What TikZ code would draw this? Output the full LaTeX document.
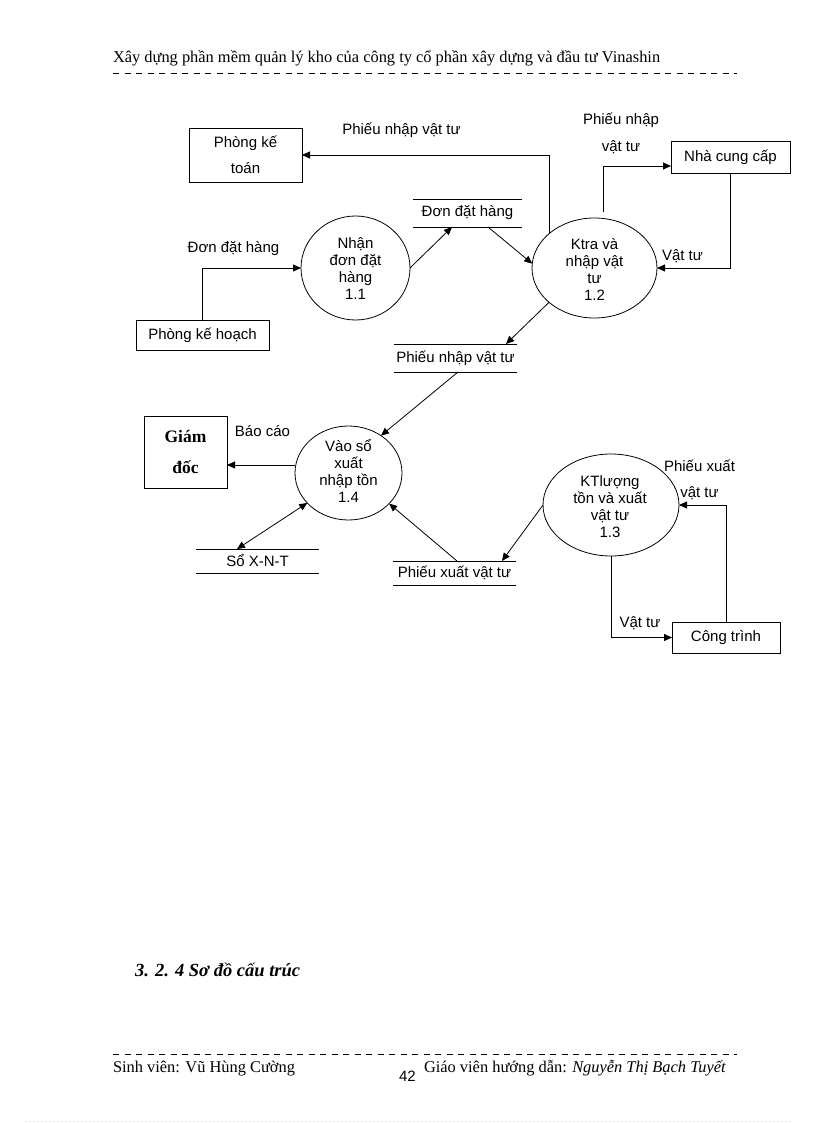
\documentclass[tikz,border=0pt]{standalone}
\usepackage{fontspec}
\setmainfont{Liberation Serif}
\newfontfamily\arialf{Liberation Sans}
\usetikzlibrary{arrows.meta,shapes.geometric,calc}
\begin{document}
\begin{tikzpicture}[x=1pt,y=-1pt,
  every node/.style={inner sep=0pt,outer sep=0pt},
  dfd/.style={font=\arialf\fontsize{15}{17}\selectfont},
  ent/.style={dfd,draw,line width=0.8pt,rectangle,align=center},
  proc/.style={ellipse,draw,line width=0.8pt},
  ptext/.style={dfd,align=center},
  store/.style={dfd},
  lbl/.style={dfd},
  flow/.style={line width=0.8pt},
  arr/.style={flow,-{Triangle[length=8pt,width=7pt]}},
  darr/.style={flow,{Triangle[length=8pt,width=7pt]}-{Triangle[length=8pt,width=7pt]}},
  dashline/.style={line width=0.8pt,dash pattern=on 6pt off 5.5pt},
  serif/.style={font=\fontsize{16.4}{19}\selectfont}
]
\fill[white] (0,0) rectangle (816,1123);
\useasboundingbox (0,0) rectangle (816,1123);

% header
\node[serif,anchor=base west] (hdr) at (113,63) {Xây dựng phần mềm quản lý kho của công ty cổ phần xây dựng và đầu tư Vinashin};
\coordinate (hd1) at (113,73);
\coordinate (hd2) at (737,73);
\draw[dashline] (hd1) -- (hd2);

% external entities
\node[ent,minimum width=113pt,minimum height=54pt,font=\arialf\fontsize{15}{26}\selectfont] (ketoan) at (245.5,155) {Phòng kế\\toán};
\node[ent,minimum width=133pt,minimum height=30pt] (kehoach) at (202.5,335) {Phòng kế hoạch};
\node[ent,minimum width=119pt,minimum height=32pt] (ncc) at (730.5,157) {Nhà cung cấp};
\node[ent,minimum width=83pt,minimum height=72pt,font=\bfseries\fontsize{17.5}{31}\selectfont] (gd) at (185.5,452) {Giám\\đốc};
\node[ent,minimum width=108pt,minimum height=31pt] (ct) at (726,637.5) {Công trình};

% processes
\node[proc,minimum width=109pt,minimum height=104pt] (p11) at (355.5,268) {};
\node[proc,minimum width=125pt,minimum height=100pt] (p12) at (594.5,268) {};
\node[proc,minimum width=136pt,minimum height=102pt] (p13) at (611,505) {};
\node[proc,minimum width=107pt,minimum height=94pt] (p14) at (348.5,473) {};
\node[ptext] (p11t) at (355.5,269) {Nhận\\đơn đặt\\hàng\\1.1};
\node[ptext] (p12t) at (594.5,269) {Ktra và\\nhập vật\\tư\\1.2};
\node[ptext] (p13t) at (610,507) {KTlượng\\tồn và xuất\\vật tư\\1.3};
\node[ptext] (p14t) at (348.5,471) {Vào sổ\\xuất\\nhập tồn\\1.4};

% data stores
\node[store,minimum width=109pt,minimum height=28pt] (s1) at (467.5,213) {Đơn đặt hàng};
\node[store,minimum width=123pt,minimum height=28pt] (s2) at (455.5,358) {Phiếu nhập vật tư};
\node[store,minimum width=123pt,minimum height=24pt] (s3) at (257.5,561) {Sổ X-N-T};
\node[store,minimum width=123pt,minimum height=24pt] (s4) at (454.5,573) {Phiếu xuất vật tư};
\foreach \s in {s1,s2,s3,s4}{
  \draw[flow] (\s.north west) -- (\s.north east) (\s.south west) -- (\s.south east);
}

% flows
\draw[arr] (kehoach.north) |- (p11.west);
\draw[arr] (p11.east) -- ([xshift=-15.5pt]s1.south);
\draw[arr] ([xshift=20.5pt]s1.south) -- (p12.176);
\draw[arr] (p12.142) |- (ketoan.east);
\draw[arr] ($(p12.north)+(8.5,-6)$) |- ([yshift=-9pt]ncc.west);
\draw[arr] (ncc.south) |- (p12.east);
\draw[arr] (p12.217) -- ([xshift=50.5pt]s2.north);
\draw[arr] ([xshift=2.5pt]s2.south) -- (p14.49);
\draw[arr] ([yshift=-13pt]gd.east -| p14.west) -- ([yshift=-13pt]gd.east);
\draw[darr] (p14.216) -- ([xshift=-20.5pt]s3.north);
\draw[arr] ([xshift=2.5pt]s4.north) -- (p14.323);
\draw[arr] (p13.west) -- ([xshift=47.5pt]s4.north);
\draw[arr] (ct.north) |- (p13.east);
\draw[arr] (p13.south) |- (ct.west);

% flow labels
\node[lbl] (l1) at (401.5,130) {Phiếu nhập vật tư};
\node[lbl] (l2) at (233.5,249) {Đơn đặt hàng};
\node[lbl,align=center,font=\arialf\fontsize{15}{27}\selectfont] (l3) at (621,133.5) {Phiếu nhập\\vật tư};
\node[lbl] (l4) at (682.5,256) {Vật tư};
\node[lbl] (l5) at (262.5,431) {Báo cáo};
\node[lbl,align=center,font=\arialf\fontsize{15}{26}\selectfont] (l6) at (699.5,480) {Phiếu xuất\\vật tư};
\node[lbl] (l7) at (640,623) {Vật tư};

% section title
\node[anchor=base west,font=\bfseries\itshape\fontsize{18.5}{22}\selectfont] (title) at (135,976) {3. 2. 4 Sơ đồ cấu trúc};

% footer
\coordinate (fd1) at (113,1054);
\coordinate (fd2) at (737,1054);
\draw[dashline] (fd1) -- (fd2);
\node[serif,anchor=base west] (sv) at (113,1072) {Sinh viên: Vũ Hùng Cường};
\node[anchor=base west,font=\arialf\fontsize{15}{17}\selectfont] (pg) at (399,1081) {42};
\node[serif,anchor=base west] (gv) at (424,1072) {Giáo viên hướng dẫn: \textit{Nguyễn Thị Bạch Tuyết}};
\coordinate (bd1) at (26,1121);
\coordinate (bd2) at (791,1121);
\draw[gray!35,line width=0.6pt,dash pattern=on 1pt off 3pt] (bd1) -- (bd2);
\end{tikzpicture}
\end{document}
